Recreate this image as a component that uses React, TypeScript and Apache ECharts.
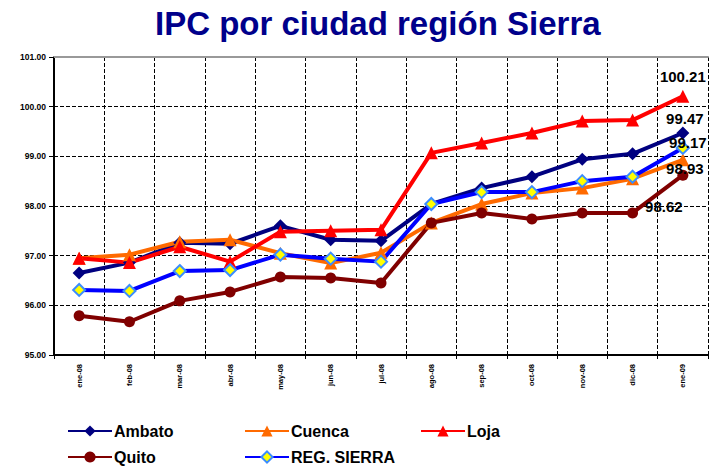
import React, { useEffect, useRef } from "react";
import * as echarts from "echarts";

const categories = ["ene-08", "feb-08", "mar-08", "abr-08", "may-08", "jun-08", "jul-08", "ago-08", "sep-08", "oct-08", "nov-08", "dic-08", "ene-09"];
const ambato = [96.65, 96.86, 97.26, 97.24, 97.6, 97.32, 97.3, 98.04, 98.36, 98.59, 98.94, 99.05, 99.47];
const cuenca = [96.95, 97.02, 97.28, 97.32, 97.05, 96.85, 97.06, 97.66, 98.04, 98.26, 98.36, 98.55, 98.93];
const loja = [96.95, 96.86, 97.18, 96.88, 97.48, 97.5, 97.52, 99.07, 99.27, 99.47, 99.71, 99.73, 100.21];
const quito = [95.79, 95.67, 96.09, 96.27, 96.57, 96.55, 96.45, 97.66, 97.86, 97.74, 97.86, 97.86, 98.62];
const sierra = [96.31, 96.29, 96.69, 96.71, 97.02, 96.94, 96.88, 98.04, 98.28, 98.28, 98.5, 98.59, 99.17];
const yTicks = [95, 96, 97, 98, 99, 100, 101];

const FONT = "'Liberation Sans', Arial, sans-serif";

function withEndLabel(vals: number[], offset: number[]) {
  return vals.map((v, i) =>
    i === vals.length - 1
      ? {
          value: v,
          label: {
            show: true,
            position: "inside",
            offset,
            formatter: (p: any) => Number(p.value).toFixed(2),
            color: "#000",
            fontSize: 15,
            fontWeight: "bold",
            fontFamily: FONT,
          },
        }
      : v
  );
}

export default function App() {
  const ref = useRef<HTMLDivElement>(null);
  useEffect(() => {
    document.body.style.margin = "0";
    const chart = echarts.init(ref.current!, null, { renderer: "svg" });
    const mk = (name: string, data: number[], color: string, symbol: string, size: number, offset: number[], extra: any = {}) => ({
      name,
      type: "line",
      data: withEndLabel(data, offset),
      symbol,
      symbolSize: size,
      showAllSymbol: true,
      lineStyle: { color, width: 4 },
      itemStyle: { color },
      emphasis: { disabled: true },
      ...extra,
    });
    const legendItem = (name: string, left: number, top: number) => ({
      data: [name],
      left,
      top,
      itemWidth: 44,
      itemHeight: 14,
      itemGap: 0,
      textStyle: { fontSize: 16, fontWeight: "bold", color: "#000", fontFamily: FONT, padding: [0, 0, 0, -3] },
      selectedMode: false,
    });
    chart.setOption({
      animation: false,
      backgroundColor: "#fff",
      title: {
        text: "IPC por ciudad región Sierra",
        left: 150,
        top: 2,
        textStyle: { fontSize: 33, fontWeight: "bold", color: "#00008b", fontFamily: FONT },
      },
      legend: [
        legendItem("Ambato", 62, 418),
        legendItem("Cuenca", 239, 418),
        legendItem("Loja", 415, 418),
        legendItem("Quito", 62, 444),
        legendItem("REG. SIERRA", 239, 444),
      ],
      grid: { left: 54, right: 2, top: 57, bottom: 113 },
      xAxis: [
        {
          type: "category",
          data: categories,
          boundaryGap: true,
          axisLine: { lineStyle: { color: "#000", width: 2 } },
          axisTick: { show: true, length: 4, lineStyle: { color: "#000", width: 1 } },
          axisLabel: { rotate: 90, fontSize: 7.5, fontWeight: "bold", color: "#000", fontFamily: FONT, margin: 9 },
          splitLine: { show: true, lineStyle: { color: "#000", type: "dashed", width: 1 } },
        },
        {
          type: "category",
          data: categories,
          position: "top",
          axisLine: { show: true, lineStyle: { color: "#999", width: 2 } },
          axisTick: { show: false },
          axisLabel: { show: false },
          splitLine: { show: false },
        },
      ],
      yAxis: {
        type: "value",
        min: yTicks[0],
        max: yTicks[yTicks.length - 1],
        interval: 1,
        axisLine: { show: true, lineStyle: { color: "#000", width: 2 } },
        axisTick: { show: true, length: 5, lineStyle: { color: "#000", width: 1 } },
        axisLabel: {
          formatter: (v: number) => v.toFixed(2),
          fontSize: 8.5,
          fontWeight: "bold",
          color: "#000",
          fontFamily: FONT,
          margin: 8,
        },
        splitLine: { show: true, lineStyle: { color: "#000", type: "dashed", width: 1 } },
      },
      series: [
        mk("Ambato", ambato, "#000080", "diamond", 13, [2, -14]),
        mk("Cuenca", cuenca, "#ff6a00", "triangle", 13, [2, 9]),
        mk("Loja", loja, "#ff0000", "triangle", 13, [0, -20]),
        mk("Quito", quito, "#800000", "circle", 11, [-19, 31]),
        mk("REG. SIERRA", sierra, "#0000ff", "diamond", 12, [5, -5], {
          itemStyle: { color: "#ffff00", borderColor: "#3a8cff", borderWidth: 2 },
        }),
      ],
    });
    return () => chart.dispose();
  }, []);
  return <div ref={ref} style={{ width: 710, height: 468 }} />;
}
